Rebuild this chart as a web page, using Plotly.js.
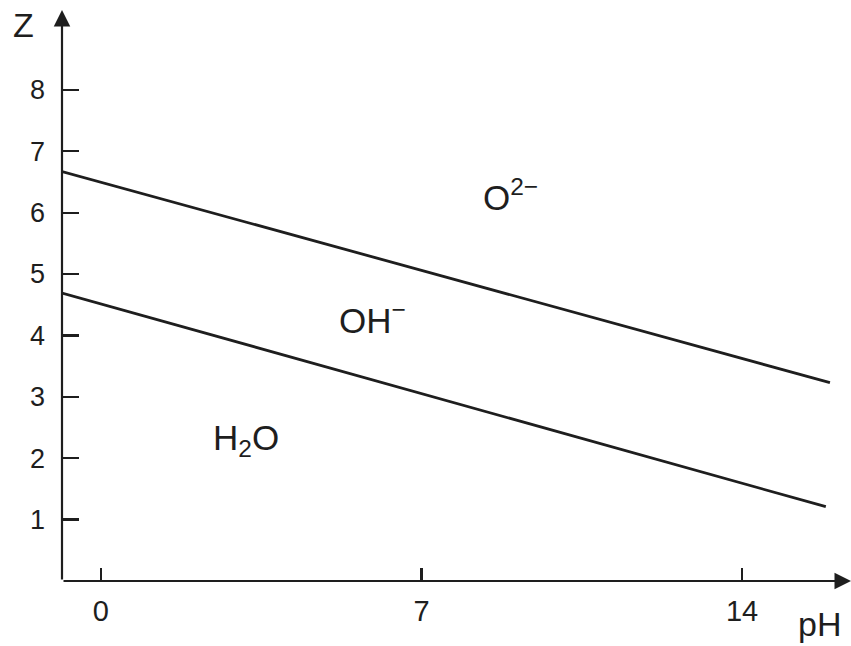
<!DOCTYPE html>
<html>
<head>
<meta charset="utf-8">
<script src="https://cdn.plot.ly/plotly-3.0.1.min.js"></script>
<style>html,body{margin:0;padding:0;background:#fff;}#chart{width:851px;height:646px;}</style>
</head>
<body>
<div id="chart"></div>
<script>
// Boundary lines (pH, Z)
const phUpper = [-0.85, 15.92];
const zUpper  = [6.67, 3.23];
const phLower = [-0.85, 15.83];
const zLower  = [4.69, 1.21];

// Region labels
const regionText = ['O<sup>2−</sup>', 'OH<sup>−</sup>', 'H<sub>2</sub>O'];
const regionPH   = [8.95, 5.92, 3.17];
const regionZ    = [6.29, 4.28, 2.30];

// Ticks
const xTicks = [0, 7, 14];
const yTicks = [1, 2, 3, 4, 5, 6, 7, 8];

const xRange = [-0.85, 16.38];
const yRange = [0, 9.3];

const ink = '#1e1e1e';
const fontFam = '"Liberation Sans", Arial, Helvetica, sans-serif';

const traces = [
  {x: phUpper, y: zUpper, mode: 'lines', line: {color: ink, width: 2.8}, hoverinfo: 'skip', showlegend: false},
  {x: phLower, y: zLower, mode: 'lines', line: {color: ink, width: 2.8}, hoverinfo: 'skip', showlegend: false}
];

const annotations = regionText.map((t, i) => ({
  x: regionPH[i], y: regionZ[i], xref: 'x', yref: 'y', text: t, showarrow: false,
  font: {family: fontFam, size: 35, color: ink}, xanchor: 'center', yanchor: 'middle'
}));

// axis arrows
annotations.push({x: xRange[1], y: 0, ax: xRange[0], ay: 0, xref: 'x', yref: 'y', axref: 'x', ayref: 'y',
  text: '', showarrow: true, arrowhead: 2, arrowsize: 1.5, arrowwidth: 2.2, arrowcolor: ink});
annotations.push({x: xRange[0], y: yRange[1], ax: xRange[0], ay: 0, xref: 'x', yref: 'y', axref: 'x', ayref: 'y',
  text: '', showarrow: true, arrowhead: 2, arrowsize: 1.5, arrowwidth: 2.2, arrowcolor: ink});

// axis names (pixel positions, converted to paper coords below)
annotations.push({x: 23, y: 25, xref: 'paper', yref: 'paper', text: 'Z', showarrow: false,
  font: {family: fontFam, size: 34, color: ink}, xanchor: 'center', yanchor: 'middle'});
annotations.push({x: 819, y: 624, xref: 'paper', yref: 'paper', text: 'pH', showarrow: false,
  font: {family: fontFam, size: 34, color: ink}, xanchor: 'center', yanchor: 'middle'});

const W = 851, H = 646, m = {l: 62, r: 0, t: 10, b: 65};
const pw = W - m.l - m.r, ph = H - m.t - m.b;
annotations.forEach(a => {
  if (a.xref === 'paper') {
    a.x = (a.x - m.l) / pw;
    a.y = 1 - (a.y - m.t) / ph;
  }
});

const axisCommon = {
  showgrid: false, zeroline: false, showline: false,
  ticks: 'inside', tickcolor: ink, tickwidth: 2.2,
  tickmode: 'array', fixedrange: true
};

const layout = {
  width: W, height: H,
  margin: m,
  paper_bgcolor: '#ffffff', plot_bgcolor: '#ffffff',
  xaxis: Object.assign({}, axisCommon, {range: xRange, tickvals: xTicks, ticktext: xTicks.map(String),
    ticklen: 13, ticklabelstandoff: 10, tickfont: {family: fontFam, size: 29, color: ink}}),
  yaxis: Object.assign({}, axisCommon, {range: yRange, tickvals: yTicks, ticktext: yTicks.map(String),
    ticklen: 17, ticklabelstandoff: 16, tickfont: {family: fontFam, size: 27, color: ink}}),
  annotations: annotations,
  showlegend: false
};

Plotly.newPlot('chart', traces, layout, {displayModeBar: false, staticPlot: true});
</script>
</body>
</html>
